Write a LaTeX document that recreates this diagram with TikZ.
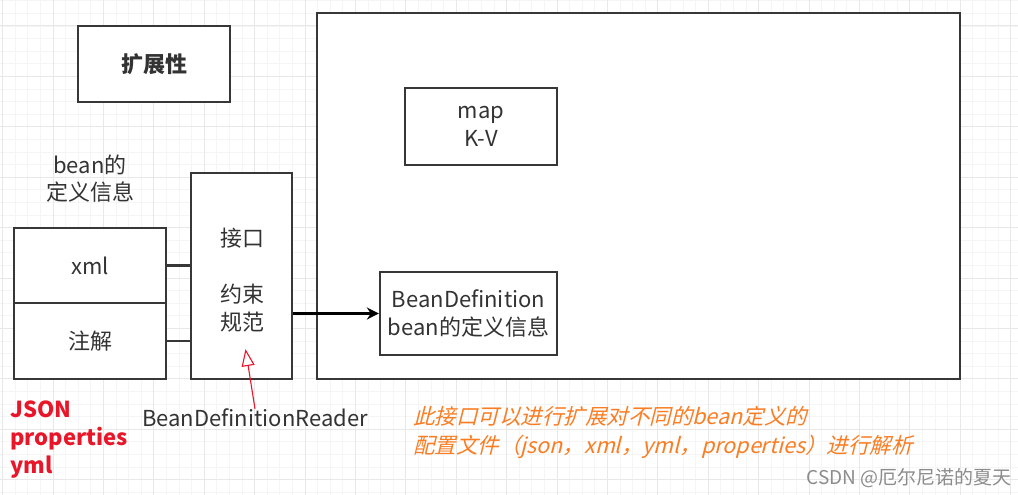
\documentclass[tikz,border=0pt]{standalone}
\usepackage{fontspec}
\setmainfont{Noto Sans CJK SC}
\newfontfamily\slantcjk[FakeSlant=0.25]{Noto Sans CJK SC}
\usepackage{tikz}
\usetikzlibrary{arrows.meta,positioning}

\definecolor{noteorange}{RGB}{250,125,35}
\definecolor{markred}{RGB}{232,22,40}
\definecolor{boxline}{RGB}{55,55,55}

\begin{document}
\begin{tikzpicture}[
  x=1pt, y=-1pt,
  % box and text styles
  box/.style={
    rectangle,
    draw=boxline,
    line width=2.2pt,
    fill=white,
    inner sep=0pt,
    align=center,
    font=\fontsize{22}{28}\selectfont,
    text=black!80
  },
  txt/.style={
    inner sep=0pt,
    align=center,
    font=\fontsize{22}{27}\selectfont,
    text=black!80
  },
  % connector styles
  link/.style={draw=boxline, line width=2.2pt},
  flow/.style={
    -{Stealth[length=12pt,width=12pt]},
    line width=2.5pt,
    draw=black
  },
  hint/.style={
    -{Triangle[open,length=17pt,width=13pt]},
    line width=1.1pt,
    draw=markred,
    fill=white
  },
  % background grid
  minorgrid/.style={draw=black!4, line width=0.8pt},
  majorgrid/.style={draw=black!9, line width=1pt}
]

% === BACKGROUND ===
\fill[white] (0,0) rectangle (1018,495);
\useasboundingbox (0,0) rectangle (1018,495);
\foreach \k in {0,...,80}
  \draw[minorgrid] ({2.6+12.6*\k},0) -- ++(0,495);
\foreach \j in {-2,...,37}
  \draw[minorgrid] (0,{26+12.6*\j}) -- ++(1018,0);
\foreach \k in {0,...,20}
  \draw[majorgrid] ({2.6+50.4*\k},0) -- ++(0,495);
\foreach \j in {0,...,9}
  \draw[majorgrid] (0,{26+50.4*\j}) -- ++(1018,0);

% === NODES ===
\node[box, minimum width=152, minimum height=76, font=\fontsize{22}{28}\selectfont\bfseries] (ext) at (154,64) {扩展性};

\node[txt] (beaninfo) at (90,179) {bean的\\定义信息};

\node[box, minimum width=152, minimum height=75] (xmlbox) at (90,265.5) {xml};
\node[box, minimum width=152, minimum height=76] (annobox) at (90,341) {注解};

\node[box, minimum width=101, minimum height=206] (reader) at (241.5,276) {};
\node[txt, font=\fontsize{22}{28}\selectfont] (readertxt) at (242,280) {接口\\[28pt]约束\\规范};

\node[box, minimum width=643, minimum height=366] (container) at (638.5,196) {};
\node[box, minimum width=152, minimum height=77] (mapbox) at (481,126.5) {map\\K-V};
\node[box, minimum width=177, minimum height=83] (beandef) at (468.5,313.5) {BeanDefinition\\bean的定义信息};

\node[txt] (readerlbl) at (255,418) {BeanDefinitionReader};

\node[txt, align=left, anchor=west, text=markred, font=\fontsize{22}{28}\selectfont\bfseries] (formats) at (10,440) {JSON\\properties\\yml};

\node[txt, align=left, anchor=west, text=noteorange, font=\fontsize{21.5}{29}\slantcjk] (note) at (413,432)
  {此接口可以进行扩展对不同的bean定义的\\配置文件（json，xml，yml，properties）进行解析};

\node[txt, anchor=east, text=black!45, font=\fontsize{19}{22}\selectfont] (mark) at (1012,478) {CSDN @厄尔尼诺的夏天};

% === CONNECTORS ===
\draw[link] (xmlbox.east) -- (xmlbox.east -| reader.west);
\draw[link] (annobox.east) -- (annobox.east -| reader.west);
\draw[flow] (reader.east |- beandef.west) -- (beandef.west);
\draw[hint] (readerlbl.north) -- ([xshift=4pt,yshift=31pt]reader.south);

\end{tikzpicture}
\end{document}
